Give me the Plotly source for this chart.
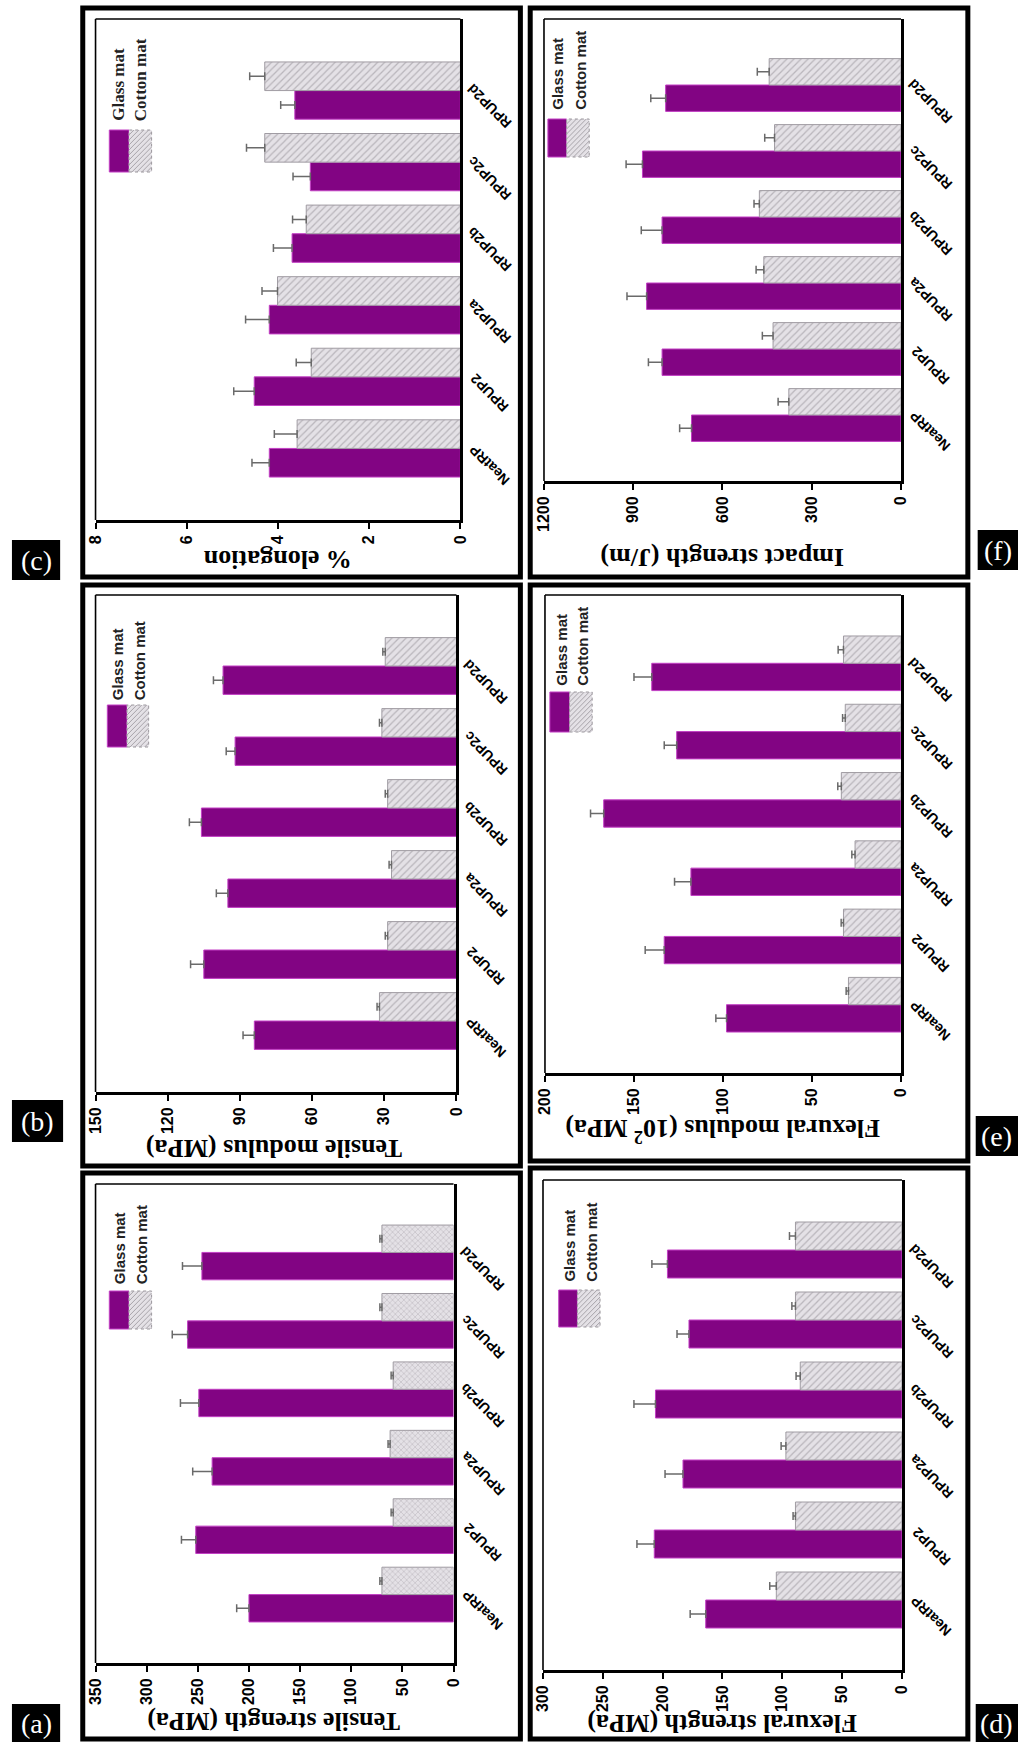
import plotly.graph_objects as go

W, H = 1026, 1742

categories = ["NeatRP", "RPUP2", "RPUP2a", "RPUP2b", "RPUP2c", "RPUP2d"]
series_names = ["Glass mat", "Cotton mat"]

# (a) Tensile strength (MPa)
ts_glass = [200, 252, 236, 249, 260, 246]
ts_glass_err = [12, 14, 19, 18, 15, 19]
ts_cotton = [70, 59, 62, 59, 70, 70]
ts_cotton_err = [2, 2, 2, 2, 2, 2]
ts_ticks = [0, 50, 100, 150, 200, 250, 300, 350]

# (b) Tensile modulus (MPa)
tm_glass = [84, 105, 95, 106, 92, 97]
tm_glass_err = [4.7, 5.5, 4.8, 5.0, 3.7, 4.0]
tm_cotton = [32, 28.6, 27, 28.6, 31, 29.6]
tm_cotton_err = [1, 1, 1, 1, 1, 1]
tm_ticks = [0, 30, 60, 90, 120, 150]

# (c) % elongation
el_glass = [4.19, 4.52, 4.19, 3.69, 3.29, 3.63]
el_glass_err = [0.38, 0.45, 0.52, 0.41, 0.38, 0.31]
el_cotton = [3.58, 3.27, 4.01, 3.38, 4.29, 4.29]
el_cotton_err = [0.50, 0.33, 0.34, 0.30, 0.40, 0.33]
el_ticks = [0, 2, 4, 6, 8]

# (d) Flexural strength (MPa)
fs_glass = [164, 207, 183, 206, 178, 196]
fs_glass_err = [13, 14.5, 15, 18, 10, 13]
fs_cotton = [105, 89, 97, 85, 89, 89]
fs_cotton_err = [5.5, 2, 4, 3.5, 3, 5]
fs_ticks = [0, 50, 100, 150, 200, 250, 300]

# (e) Flexural modulus (10^2 MPa)
fm_glass = [98, 133, 118, 167, 126, 140]
fm_glass_err = [6, 10.7, 9.2, 7.4, 7, 10]
fm_cotton = [29.5, 32.3, 25.8, 33.5, 31.3, 32.3]
fm_cotton_err = [1.3, 1.3, 1.8, 2, 1.5, 3]
fm_ticks = [0, 50, 100, 150, 200]

# (f) Impact strength (J/m)
im_glass = [704, 803, 855, 803, 869, 791]
im_glass_err = [40, 46, 66, 70, 55, 50]
im_cotton = [377, 430, 461, 476, 425, 443]
im_cotton_err = [36, 36, 26, 18, 33, 40]
im_ticks = [0, 300, 600, 900, 1200]

titles = {
    "a": "Tensile strength (MPa)",
    "b": "Tensile modulus (MPa)",
    "c": "% elongation",
    "d": "Flexural strength (MPa)",
    "e": "Flexural modulus (10<sup>2</sup> MPa)",
    "f": "Impact strength (J/m)",
}

# ---- layout geometry (pixels) ----
panels = [
    dict(key="c", data=(el_glass, el_glass_err, el_cotton, el_cotton_err), ticks=el_ticks,
         plot=(88, 19, 459, 520), frame=(75, 8, 520, 577), title_xy=(273, 560),
         leg=(102, 122, 145, 130, 172, 111, 134, 123), serif_leg=True, pattern="/",
         label_box=(3, 540, 52, 580)),
    dict(key="f", data=(im_glass, im_glass_err, im_cotton, im_cotton_err), ticks=im_ticks,
         plot=(544, 19, 907, 481), frame=(530, 8, 975, 577), title_xy=(725, 558),
         leg=(548, 567, 590, 119, 157, 558, 581, 112), serif_leg=False, pattern="/",
         label_box=(985, 530, 1026, 570)),
    dict(key="b", data=(tm_glass, tm_glass_err, tm_cotton, tm_cotton_err), ticks=tm_ticks,
         plot=(88, 595, 455, 1092), frame=(75, 585, 520, 1166), title_xy=(270, 1149),
         leg=(100, 120, 142, 705, 747, 110, 133, 702), serif_leg=False, pattern="/",
         label_box=(3, 1100, 55, 1142)),
    dict(key="e", data=(fm_glass, fm_glass_err, fm_cotton, fm_cotton_err), ticks=fm_ticks,
         plot=(545, 595, 907, 1073), frame=(530, 585, 975, 1161), title_xy=(725, 1131),
         leg=(550, 570, 593, 692, 732, 561, 583, 688), serif_leg=False, pattern="/",
         label_box=(983, 1116, 1026, 1156)),
    dict(key="a", data=(ts_glass, ts_glass_err, ts_cotton, ts_cotton_err), ticks=ts_ticks,
         plot=(88, 1184, 452, 1663), frame=(75, 1173, 520, 1739), title_xy=(269, 1722),
         leg=(102, 122, 145, 1291, 1329, 112, 135, 1286), serif_leg=False, pattern="x",
         label_box=(3, 1704, 52, 1742)),
    dict(key="d", data=(fs_glass, fs_glass_err, fs_cotton, fs_cotton_err), ticks=fs_ticks,
         plot=(543, 1180, 908, 1670), frame=(530, 1168, 975, 1739), title_xy=(725, 1724),
         leg=(559, 578, 601, 1290, 1327, 569, 592, 1284), serif_leg=False, pattern="/",
         label_box=(983, 1704, 1026, 1742)),
]

GLASS = "#820483"
GLASS_EDGE = "#c23fc4"
COTTON_BG = "#e4e1e6"
COTTON_FG = "#8e8a90"
SERIF = "Liberation Serif, Times New Roman, serif"
SANS = "Liberation Sans, Arial, sans-serif"


def px(x):
    return x / W


def py(y):
    return 1 - y / H


fig = go.Figure()
shapes = []
annotations = []
layout_axes = {}

for i, p in enumerate(panels, start=1):
    xa = "x" if i == 1 else f"x{i}"
    ya = "y" if i == 1 else f"y{i}"
    g, ge, c, ce = p["data"]
    fig.add_trace(go.Bar(
        y=categories, x=g, orientation="h", name=series_names[0], xaxis=xa, yaxis=ya,
        marker=dict(color=GLASS, line=dict(color=GLASS_EDGE, width=1)),
        error_x=dict(type="data", array=ge, arrayminus=[0] * len(ge), symmetric=False,
                     color="#6a6a6a", thickness=1.5, width=4),
    ))
    fig.add_trace(go.Bar(
        y=categories, x=c, orientation="h", name=series_names[1], xaxis=xa, yaxis=ya,
        marker=dict(color=COTTON_BG, line=dict(color="#a09ca3", width=1),
                    pattern=dict(shape=p["pattern"], fgcolor=COTTON_FG, bgcolor=COTTON_BG,
                                 size=5 if p["pattern"] == "/" else 4, solidity=0.25)),
        error_x=dict(type="data", array=ce, arrayminus=[0] * len(ce), symmetric=False,
                     color="#6a6a6a", thickness=1.5, width=4),
    ))
    x0, y0, x1, y1 = p["plot"]
    ticks = p["ticks"]
    layout_axes["xaxis" if i == 1 else f"xaxis{i}"] = dict(
        domain=[px(x0), px(x1)], anchor=ya, range=[ticks[-1], 0],
        showline=True, linecolor="black", linewidth=3, mirror=False,
        ticks="outside", ticklen=6, tickwidth=2, tickcolor="black",
        tickvals=ticks, ticktext=[f"<b>{t}</b>" for t in ticks], tickangle=-90,
        tickfont=dict(family=SANS, size=16, color="black"),
        showgrid=False, zeroline=False, fixedrange=True,
    )
    layout_axes["yaxis" if i == 1 else f"yaxis{i}"] = dict(
        domain=[py(y1), py(y0)], anchor=xa, type="category", side="right",
        categoryorder="array", categoryarray=categories, range=[-1, 6],
        showline=True, linecolor="black", linewidth=3, mirror=False,
        showticklabels=False, ticks="", showgrid=False, zeroline=False, fixedrange=True,
    )
    # thinner top and left borders of the plot box
    shapes.append(dict(type="line", xref=f"{xa} domain", yref=f"{ya} domain",
                       x0=0, x1=1, y0=1, y1=1, line=dict(color="black", width=1.6)))
    shapes.append(dict(type="line", xref=f"{xa} domain", yref=f"{ya} domain",
                       x0=0, x1=0, y0=0, y1=1, line=dict(color="black", width=1.6)))
    # category labels (rotated like the reference)
    for cat in categories:
        annotations.append(dict(
            text=f"<b>{cat}</b>", xref=f"{xa} domain", x=1, xshift=29,
            yref=ya, y=cat, yshift=-16, textangle=-135, showarrow=False,
            xanchor="center", yanchor="middle",
            font=dict(family=SANS, size=14, color="black"),
        ))
    # outer frame
    fx0, fy0, fx1, fy1 = p["frame"]
    shapes.append(dict(type="rect", xref="paper", yref="paper",
                       x0=px(fx0), x1=px(fx1), y0=py(fy1), y1=py(fy0),
                       line=dict(color="black", width=5), fillcolor="rgba(0,0,0,0)", layer="below"))
    # axis title (upside down)
    tx, ty = p["title_xy"]
    annotations.append(dict(
        text=f"<b>{titles[p['key']]}</b>", xref="paper", yref="paper", x=px(tx), y=py(ty),
        textangle=180, showarrow=False, xanchor="center", yanchor="middle",
        font=dict(family=SERIF, size=26, color="black"),
    ))
    # legend
    lx0, lx1, lx2, ly0, ly1, tgx, tcx, tb = p["leg"]
    shapes.append(dict(type="rect", xref="paper", yref="paper",
                       x0=px(lx0), x1=px(lx1), y0=py(ly1), y1=py(ly0),
                       fillcolor=GLASS, line=dict(color=GLASS_EDGE, width=1)))
    shapes.append(dict(type="rect", xref="paper", yref="paper",
                       x0=px(lx1), x1=px(lx2), y0=py(ly1), y1=py(ly0),
                       fillcolor=COTTON_BG, line=dict(color="#9a969c", width=1, dash="dot")))
    # hatch lines in the cotton swatch
    path = ""
    step = 5
    wsw = lx2 - lx1
    hsw = ly1 - ly0
    k = -hsw
    while k < wsw:
        ax, ay = lx1 + max(k, 0), ly1 - max(-k, 0)
        bx_end = min(k + hsw, wsw)
        bx, by = lx1 + bx_end, ly1 - (bx_end - k)
        path += f"M{px(ax)},{py(ay)} L{px(bx)},{py(by)} "
        k += step
    shapes.append(dict(type="path", xref="paper", yref="paper", path=path,
                       line=dict(color="#a8a4aa", width=1)))
    lf = SERIF if p["serif_leg"] else SANS
    lsize = 17 if p["serif_leg"] else 15
    for name, tx_ in zip(series_names, (tgx, tcx)):
        annotations.append(dict(
            text=f"<b>{name}</b>", xref="paper", yref="paper", x=px(tx_), y=py(tb),
            textangle=-90, showarrow=False, xanchor="center", yanchor="bottom",
            font=dict(family=lf, size=lsize, color="#222"),
        ))
    # panel label
    bx0, by0, bx1, by1 = p["label_box"]
    shapes.append(dict(type="rect", xref="paper", yref="paper",
                       x0=px(bx0), x1=px(bx1), y0=py(by1), y1=py(by0),
                       fillcolor="black", line=dict(width=0)))
    annotations.append(dict(
        text=f"({p['key']})", xref="paper", yref="paper",
        x=px((bx0 + bx1) / 2), y=py((by0 + by1) / 2), showarrow=False,
        xanchor="center", yanchor="middle",
        font=dict(family=SERIF, size=28, color="white"),
    ))

fig.update_layout(
    width=W, height=H, margin=dict(l=0, r=0, t=0, b=0),
    paper_bgcolor="white", plot_bgcolor="white",
    showlegend=False, barmode="group", bargap=0.2, bargroupgap=0,
    shapes=shapes, annotations=annotations, **layout_axes,
)

fig.write_html("out.html", config={"displayModeBar": False},
               post_script="document.body.style.margin='0';document.body.style.overflow='hidden';")
